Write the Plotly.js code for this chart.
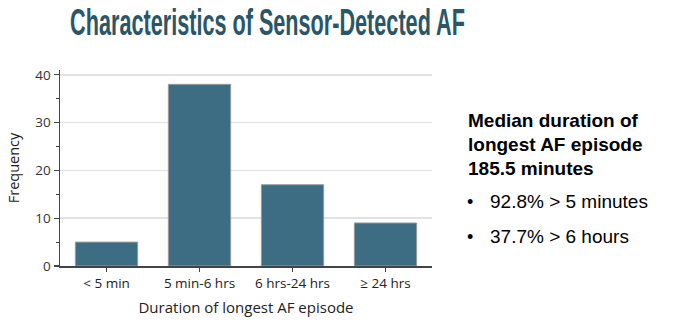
<!DOCTYPE html>
<html>
<head>
<meta charset="utf-8">
<script src="https://cdn.plot.ly/plotly-3.0.1.min.js"></script>
<style>html,body{margin:0;padding:0;background:#fff;}#chart{width:690px;height:330px;}</style>
</head>
<body>
<div id="chart"></div>
<script>
const categories = ["< 5 min", "5 min-6 hrs", "6 hrs-24 hrs", "≥ 24 hrs"];
const frequency = [5, 38, 17, 9];
const yTicks = [0, 10, 20, 30, 40];
const titleText = "Characteristics of Sensor-Detected AF";
const xTitle = "Duration of longest AF episode";
const yTitle = "Frequency";
const summaryLines = ["Median duration of", "longest AF episode", "185.5 minutes"];
const bullets = ["92.8% > 5 minutes", "37.7% > 6 hours"];

const L = 60, R = 258, T = 70, B = 64;
const plotW = 690 - L - R, plotH = 330 - T - B;
const px = v => (v - L) / plotW;
const py = v => (330 - B - v) / plotH;

const annotations = [];
summaryLines.forEach((s, i) => {
  annotations.push({xref:'paper', yref:'paper', x: px(466), y: py(129 + i*24), xanchor:'left', yanchor:'bottom',
    text: '<b>' + s + '</b>', showarrow:false, font:{family:'Liberation Sans, Arial, sans-serif', size:19, color:'#000'}, yshift:-4});
});
bullets.forEach((s, i) => {
  annotations.push({xref:'paper', yref:'paper', x: px(465), y: py(210 + i*35), xanchor:'left', yanchor:'bottom',
    text: '•', showarrow:false, font:{family:'Liberation Sans, Arial, sans-serif', size:18, color:'#000'}, yshift:-4});
  annotations.push({xref:'paper', yref:'paper', x: px(488), y: py(210 + i*35), xanchor:'left', yanchor:'bottom',
    text: s, showarrow:false, font:{family:'Liberation Sans, Arial, sans-serif', size:19, color:'#000'}, yshift:-4});
});

const axFont = 'Open Sans, sans-serif';
Plotly.newPlot('chart', [{
  type:'bar', x: categories, y: frequency,
  marker:{color:'#3d6d83', line:{color:'#9a9a9a', width:1}},
  hoverinfo:'none'
}], {
  width:690, height:330,
  margin:{l:L, r:R, t:T, b:B},
  paper_bgcolor:'#fff', plot_bgcolor:'#fff',
  bargap:0.33,
  showlegend:false,
  title:{text:'<b>' + titleText + '</b>', xref:'container', x:267.5/690, xanchor:'center', yref:'container', y:1-9/330, yanchor:'top',
    font:{family:'Liberation Sans, Arial, sans-serif', size:37, color:'#2a5668'}},
  xaxis:{
    title:{text:xTitle, font:{family:axFont, size:15, color:'#222'}, standoff:12},
    tickfont:{family:axFont, size:13.5, color:'#222'},
    showline:true, linecolor:'#444', linewidth:1.5,
    ticks:'outside', ticklen:4, tickcolor:'#444', tickwidth:1.5,
    showgrid:false, zeroline:false, fixedrange:true
  },
  yaxis:{
    title:{text:yTitle, font:{family:axFont, size:14.5, color:'#222'}, standoff:12},
    range:[0, 41], tickvals:yTicks,
    tickfont:{family:axFont, size:13.5, color:'#333'},
    showline:true, linecolor:'#444', linewidth:1.5,
    ticks:'outside', ticklen:5, tickcolor:'#444', tickwidth:1.2,
    minor:{dtick:5, ticks:'outside', ticklen:3, tickcolor:'#444', showgrid:false},
    showgrid:true, gridcolor:'#e2e2e2', gridwidth:1.5,
    zeroline:false, fixedrange:true
  },
  annotations: annotations
}, {displayModeBar:false, staticPlot:true}).then(gd => {
  // condense the title horizontally to mimic a narrow typeface
  const t = gd.querySelector('.gtitle');
  if (t) {
    const bb = t.getBBox();
    const target = 395;
    const s = Math.min(1, target / bb.width);
    const cx = bb.x + bb.width / 2;
    t.setAttribute('transform', `translate(${cx},0) scale(${s},1) translate(${-cx},0)`);
  }
});
</script>
</body>
</html>
